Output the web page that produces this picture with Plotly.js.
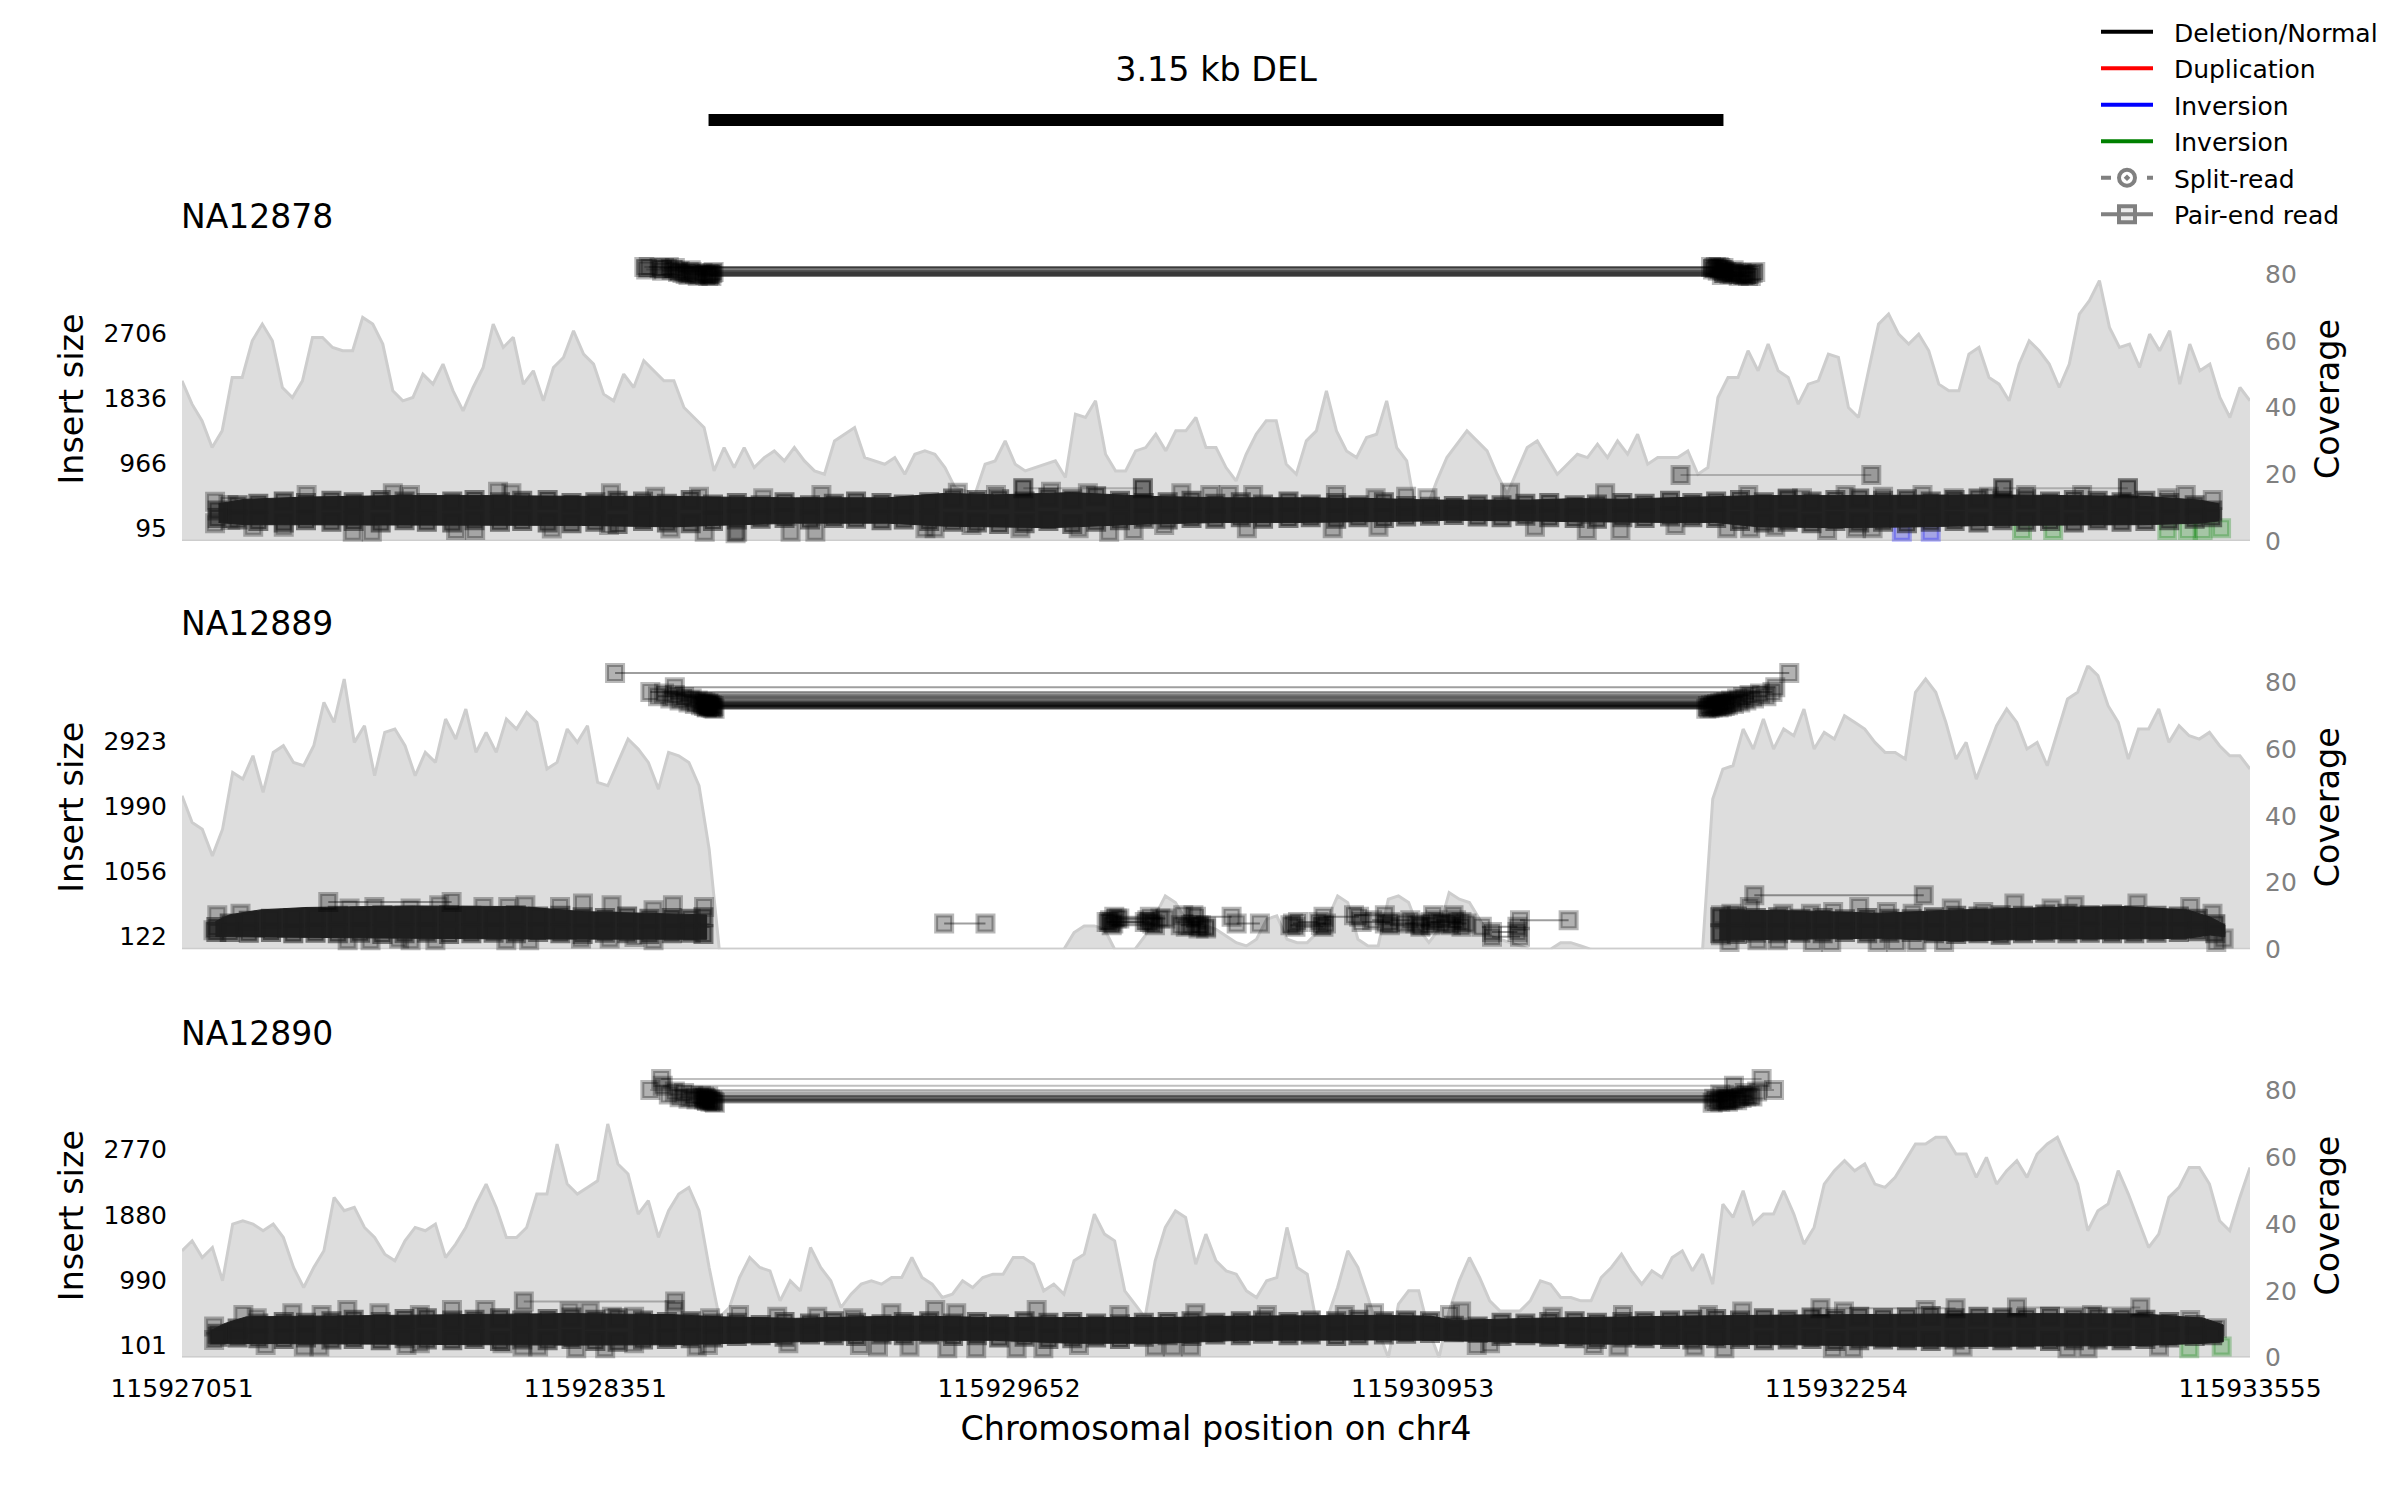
<!DOCTYPE html>
<html><head><meta charset="utf-8">
<script src="https://cdn.plot.ly/plotly-3.0.1.min.js"></script>
<style>html,body{margin:0;padding:0;background:#fff}</style></head>
<body><div id="chart" style="width:2400px;height:1500px"></div>
<script>
const chromStart = 115927051, chromEnd = 115933555;
const xTicks = [115927051,115928351,115929652,115930953,115932254,115933555];
const deletionSpan = [1656,4848];
const sampleNames = ["NA12878","NA12889","NA12890"];
const coverageTicks = [0,20,40,60,80];
const insertTicks1 = [95,966,1836,2706];
const insertTicks2 = [122,1056,1990,2923];
const insertTicks3 = [101,990,1880,2770];

const coverage1 = [48,41,36,28,33,49,49,60,65,60,46,43,48,61,61,58,57,57,67,65,59,45,42,43,50,47,53,45,39,46,52,65,58,61,47,51,42,52,55,63,56,53,44,42,50,46,54,51,48,48,40,37,34,
21,28,22,28,22,25,27,24,28,24,21,20,30,32,34,25,24,23,25,20,26,27,26,22,16,15,14,23,24,30,23,21,22,23,24,19,38,37,42,26,21,21,27,28,32,27,33,33,37,28,28,22,18,26,32,36,36,23,20,30,33,45,33,27,25,31,32,42,28,24,7,10,18,25,29,33,30,27,20,14,21,28,30,25,20,23,26,25,29,25,30,26,32,23,25,
25,25,27,20,22,43,49,49,57,51,59,51,49,41,47,48,56,55,40,37,51,65,68,62,59,62,57,47,45,45,56,58,49,47,42,53,60,57,53,46,53,68,72,78,64,58,59,52,62,57,63,47,59,51,53,43,37,46,42];
const coverage2 = [46,38,36,28,36,53,51,58,47,59,61,56,55,61,74,68,81,62,67,52,65,66,61,52,59,56,69,63,72,59,65,59,69,66,71,68,54,56,66,62,67,50,49,56,63,60,56,48,59,58,56,49,30,
0,0,0,0,0,0,0,0,0,0,0,0,0,0,0,0,0,0,0,0,0,0,0,0,0,0,0,0,0,0,0,0,0,0,0,
5,7,7,6,0,0,0,4,10,16,14,9,8,7,6,4,2,1,3,9,10,3,2,2,5,9,16,14,3,1,1,15,16,14,6,2,6,17,15,14,9,4,3,2,1,0,0,0,2,2,1,0,0,0,0,0,0,0,0,0,0,0,0,
45,54,55,66,60,69,60,66,64,72,60,65,63,70,68,66,62,59,59,57,77,81,77,68,57,62,51,59,67,72,68,60,62,55,65,75,77,85,82,73,68,57,66,66,72,62,67,64,63,65,61,58,58,54];
const coverage3 = [32,35,30,33,23,40,41,40,38,40,36,27,21,27,32,48,44,45,39,36,31,29,35,39,38,40,30,34,39,46,52,45,36,36,39,49,49,64,52,49,51,53,70,58,55,43,47,36,44,49,51,44,27,
12,15,24,30,27,26,17,23,20,33,27,23,15,19,22,
23,22,24,24,30,24,22,18,19,23,21,24,25,25,30,30,28,20,22,19,29,31,43,37,35,20,16,12,29,39,44,42,28,37,29,26,25,20,18,23,24,39,27,25,9,12,21,32,27,18,8,0,16,20,20,8,0,14,23,30,24,17,14,14,14,17,23,22,18,
18,17,17,24,27,31,26,22,26,24,30,32,26,31,22,46,42,50,40,43,43,50,43,34,39,52,56,59,56,58,52,51,54,59,64,64,66,66,61,61,54,60,52,56,59,54,61,64,66,59,52,38,44,46,56,49,41,33,37,48,51,57,57,52,41,38,48,57];

// dense overplotted read band: outline of the solid core
const bandX1 = [115,197,390,679,968,1256,1545,1670,1930,2219,2402,2556,2729,2797,3037,3278,3519,3760,3928,3976,4241,4385,4530,4674,4819,4963,5204,5444,5685,5926,6167,6345,6405];
const bandTop1 = [420,480,510,530,530,520,520,510,500,500,560,540,560,570,520,500,500,490,470,470,470,490,480,500,510,530,530,540,540,530,520,470,420];
const bandBot1 = [170,140,135,130,130,130,110,130,160,160,120,110,100,110,150,170,170,180,190,200,190,180,170,170,170,110,100,110,130,140,140,160,190];
const bandX2a = [105,149,245,390,727,1064,1261,1650];
const bandTop2a = [338,434,505,540,562,553,481,434];
const bandBot2a = [124,124,120,110,100,90,85,85];
const bandX2b = [4835,4862,5103,5344,5585,5874,6115,6307,6380,6425];
const bandTop2b = [505,505,490,457,505,540,553,505,400,290];
const bandBot2b = [76,80,90,100,60,90,90,100,147,120];
const bandX3 = [90,135,202,534,871,1208,1545,1690,1930,2133,2316,2556,2797,3086,3326,3567,3760,3928,4000,4241,4385,4530,4722,5059,5396,5733,6167,6359,6420];
const bandTop3 = [300,400,490,500,520,535,520,490,470,490,500,480,480,480,500,510,510,500,440,470,480,480,500,515,530,535,530,470,380];
const bandBot3 = [130,130,125,120,110,105,110,120,150,170,170,170,130,130,170,170,175,170,170,140,120,120,110,110,90,90,100,130,150];

// reads stacked along the edges of the dense band
const edgeX = [112,175,240,320,390,470,540,625,700,770,850,920,1000,1070,1150,1225,1300,1370,1450,1525,1600,1670,1745,1820,1895,1975,2050,2120,2200,2270,2350,2425,2500,2570,2650,2725,2800,2875,2950,3025,3100,3175,3250,3330,3400,3480,3550,3630,3700,3780,3850,3925,4000,4075,4150,4225,4300,4380,4450,4530,4600,4680,4750,4825,4900,4975,5050,5125,5200,5275,5350,5425,5500,5575,5650,5725,5800,5875,5950,6025,6100,6175,6250,6330,6385];
const edgeTop1 = [330,400,420,450,430,460,440,470,450,430,450,470,440,460,470,430,440,460,450,420,470,410,430,400,440,400,420,450,430,410,440,490,470,480,450,500,480,520,460,430,440,460,420,440,410,450,410,430,400,440,390,380,390,410,400,420,430,400,410,430,420,460,430,450,470,440,480,450,470,490,460,480,450,470,490,460,480,450,470,460,440,460,430,400,330];
const edgeBot1 = [230,210,190,170,200,180,190,170,200,180,170,200,180,190,170,160,180,150,190,170,160,190,210,220,230,210,230,220,200,210,190,180,170,150,160,190,150,180,200,220,210,230,220,240,220,230,240,220,240,230,250,260,270,250,240,260,240,230,220,240,230,250,240,230,190,170,180,160,190,170,180,160,180,190,170,200,180,190,170,200,180,190,200,220,240];
const edgeTop3 = [260,330,400,420,410,430,450,420,460,470,440,450,470,440,460,480,450,470,440,420,430,400,410,380,420,400,430,410,390,420,430,400,420,390,430,410,420,400,390,410,420,430,410,430,440,420,440,430,450,430,440,430,370,360,410,400,420,430,410,420,430,440,450,460,440,470,450,480,460,490,470,480,500,470,490,480,470,490,470,480,470,450,420,380,300];
const edgeBot3 = [220,210,200,190,210,180,190,170,200,180,170,190,160,180,170,190,160,150,180,190,200,210,230,240,220,250,240,230,250,240,250,230,240,210,220,190,200,210,190,220,240,230,250,240,260,240,250,230,240,250,260,270,280,270,230,240,220,200,190,210,200,190,180,200,190,170,180,190,160,170,180,170,160,180,190,170,180,160,170,180,170,190,210,230,240];
const edgeX2a = [108,150,210,280,350,420,490,560,630,700,770,840,910,980,1050,1120,1190,1260,1330,1400,1470,1540,1600,1640];
const edgeTop2a = [260,310,350,380,390,400,420,410,430,420,410,430,420,400,430,410,420,400,390,410,380,390,380,400];
const edgeBot2a = [190,190,180,190,170,180,170,180,160,170,180,160,170,180,170,190,170,160,180,170,160,170,180,160];
const edgeX2b = [4838,4890,4950,5020,5090,5160,5230,5300,5370,5440,5510,5580,5650,5720,5790,5860,5930,6000,6070,6140,6210,6280,6340,6395];
const edgeTop2b = [400,410,390,400,380,390,370,390,380,370,400,420,410,430,420,440,450,430,440,430,420,410,380,300];
const edgeBot2b = [170,160,180,170,180,170,190,170,180,190,170,160,170,150,170,180,170,180,170,170,180,190,200,170];

// individual visible reads around the band
const fringeX1 = [104,146,392,663,717,994,1036,1349,1488,1626,104,152,224,320,537,597,862,922,1163,1343,1536,1644,1746,1828,2011,2440,2560,2646,2733,2849,3022,3143,3234,3292,3369,3629,3754,3850,3917,4177,4476,1741,1914,1992,2338,2367,2483,2637,2820,2916,2993,3089,3349,3619,3763,4255,4418,4524,4926,5050,5095,5232,5350,5474,5572,5683,5728,5800,5976,6120,6244,6302,6387,4697,4860,4932,5011,5174,5265,5317];
const fringeY1 = [448,403,538,560,538,582,560,560,515,515,158,202,113,113,46,46,68,68,90,135,90,46,46,493,538,569,538,627,583,560,627,560,538,538,538,538,493,515,493,569,560,24,46,46,91,91,136,91,91,46,69,136,91,91,113,113,69,69,538,493,493,538,516,538,493,516,627,538,538,627,493,538,471,136,91,91,113,69,91,91];
const blueX1 = [5409,5500];
const blueY1 = [46,46];
const greenX1 = [5787,5885,6244,6309,6355,6413];
const greenY1 = [69,69,69,69,69,91];
const fringeX2 = [111,99,184,527,605,719,809,948,1026,1080,1189,1261,1351,1483,1544,1642,521,593,683,719,797,1020,1092,1255,1345,1423,1483,4873,4931,5036,5123,5193,5275,5362,5443,5566,5665,5763,5880,5952,6150,6316,6386,4867,4955,5019,5129,5187,5333,5391,5455,5542,6398,6421,4840,4840];
const fringeY2 = [429,214,452,524,548,524,572,548,548,572,548,596,572,500,572,548,71,71,95,71,71,71,71,95,95,119,71,452,548,452,452,476,548,476,452,524,476,596,524,572,596,548,452,47,71,71,47,47,47,47,47,47,47,95,429,143];
const fringeX3 = [101,101,193,235,347,439,520,621,748,849,954,1219,1282,1352,1422,1549,1661,1752,1872,1998,2111,263,383,432,706,748,1008,1071,1120,1240,1331,1422,1619,1654,1907,2132,2231,2369,2435,2688,2948,3187,3412,3657,3749,3988,4023,4311,2189,2288,2407,2498,2625,2709,2821,3060,3116,3173,4072,4114,4532,4799,4907,5227,5484,6007,6316,4440,4518,4757,4851,5192,5255,5600,5930,5993,6218,6400];
const fringeY3 = [357,176,516,471,539,516,584,539,516,584,584,562,562,493,493,584,471,516,493,493,471,108,85,85,108,131,131,85,85,62,62,131,85,108,131,108,539,584,539,584,516,539,516,516,539,516,562,493,85,85,62,62,62,62,108,85,85,85,108,131,516,516,562,562,584,516,448,107,85,85,62,62,62,85,62,62,85,335];
const greenX3 = [6313,6415];
const greenY3 = [62,85];

// paired reads: left end, right end, insert size
const pairStart1 = [1454,1468,1502,1516,1531,1550,1560,1574,1584,1593,1603,1613,1622,1637,1646,1656,1655,1660,1665,1668,1672,1460,1510,1540,1565,1600,4713,2646,5728];
const pairEnd1 = [4809,4824,4819,4838,4833,4848,4857,4852,4867,4843,4886,4877,4896,4905,4910,4920,4925,4915,4934,4940,4948,4815,4830,4845,4850,4880,5313,3022,6120];
const pairSize1 = [3595,3595,3582,3582,3595,3582,3528,3515,3501,3488,3528,3501,3475,3515,3488,3501,3475,3488,3475,3515,3528,3560,3545,3555,3540,3550,806,627,627];
const pairStart2 = [1362,1550,1473,1497,1516,1536,1550,1565,1579,1593,1603,1613,1622,1632,1637,1642,1646,1651,1656,1650,1654,1657,1660,1663,1666,1669,1672,1675,460,4945,2397,
2908,2919,2929,2940,2924,2932,2916,2948,3141,3157,3173,3197,3149,3189,3317,3486,3494,3502,3510,3590,3686,3710,3743,3783,3799,3847,3895,3927,3943,3935,3983,3895,4088,4120,4120,4208];
const pairEnd2 = [5055,5011,5002,4983,4963,4944,4930,4920,4910,4901,4891,4881,4872,4862,4857,4852,4848,4843,4838,4833,4828,4824,4819,4814,4809,4804,4799,4794,848,5478,2527,
3044,3036,3052,3077,3060,3044,3028,3093,3197,3221,3205,3221,3181,3301,3390,3582,3598,3590,3574,3702,3783,3799,3863,3879,3927,3959,4024,4024,4007,3999,4040,3991,4200,4208,4200,4361];
const pairSize2 = [3893,3690,3620,3560,3600,3530,3580,3500,3550,3470,3530,3450,3500,3430,3480,3420,3470,3410,3460,3400,3450,3420,3440,3400,3430,3390,3420,3380,619,715,310,
334,358,310,382,287,406,334,382,287,263,287,239,430,406,310,287,310,263,334,406,430,334,358,310,287,310,263,334,358,430,310,287,263,120,191,358];
const pairStart3 = [1473,1507,1512,1531,1550,1565,1579,1593,1608,1618,1632,1642,1651,1645,1650,1655,1660,1662,1668,1672,1676,1642,5153,5771,1075];
const pairEnd3 = [5007,4968,4881,4838,4954,4857,4915,4819,4930,4867,4896,4848,4828,4905,4857,4920,4877,4838,4891,4862,4814,4939,5578,6159,1551];
const pairSize3 = [3580,3730,3638,3520,3560,3480,3540,3460,3500,3450,3500,3450,3430,3470,3440,3490,3450,3420,3440,3420,3405,3490,607,616,698];

const legendLabels = ["Deletion/Normal","Duplication","Inversion","Inversion","Split-read","Pair-end read"];
const legendColors = ["#000000","#ff0000","#0000ff","#008000","#808080","#808080"];

const pos = o => chromStart + o;
const FONT = "DejaVu Sans";
const px = (a,b) => [1-b/1500, 1-a/1500];
const SQ = (fill, edge) => ({symbol:"square", size:16, color:fill, line:{color:edge||fill.replace(/[\d.]+\)$/,"0.28)"), width:4}});
const BLACK = "rgba(0,0,0,0.25)";
const traces = [];

function coverageTrace(vals, ya){
  traces.push({x:vals.map((_,i)=>chromStart+i*(chromEnd-chromStart)/(vals.length-1)), y:vals, yaxis:ya, mode:"lines",
    fill:"tozeroy", fillcolor:"rgb(221,221,221)", line:{color:"rgb(205,205,205)", width:3}, cliponaxis:false, showlegend:false, hoverinfo:"skip"});
  traces.push({x:[chromStart,chromEnd], y:[0,0], yaxis:ya, mode:"lines", line:{color:"rgb(205,205,205)", width:3}, cliponaxis:false, showlegend:false, hoverinfo:"skip"});
}
function bandTrace(xs, tops, bots, ya){
  traces.push({x:xs.concat(xs.slice().reverse()).map(pos), y:tops.concat(bots.slice().reverse()), yaxis:ya, mode:"lines",
    fill:"toself", fillcolor:"#222222", line:{color:"#222222", width:1}, showlegend:false, hoverinfo:"skip"});
}
function markerTrace(xs, ys, ya, marker){
  traces.push({x:xs.map(pos), y:ys, yaxis:ya, mode:"markers", marker, cliponaxis:false, showlegend:false, hoverinfo:"skip"});
}
function pairTraces(st, en, sz, ya, alpha){
  st.forEach((s,i)=>traces.push({x:[pos(s),pos(en[i])], y:[sz[i],sz[i]], yaxis:ya, mode:"lines+markers",
    line:{color:"rgba(0,0,0,"+alpha+")", width:2}, marker:SQ("rgba(0,0,0,0.3)"), cliponaxis:false, showlegend:false, hoverinfo:"skip"}));
}
const EDGE = SQ("rgba(30,30,30,0.6)","rgba(30,30,30,0.55)");

// Coverage sits on the base axis of each panel so the reads overlay it
coverageTrace(coverage1,"y");  coverageTrace(coverage2,"y3");  coverageTrace(coverage3,"y5");
markerTrace(fringeX1,fringeY1,"y2",SQ(BLACK));
markerTrace(blueX1,blueY1,"y2",SQ("rgba(0,0,255,0.25)"));
markerTrace(greenX1,greenY1,"y2",SQ("rgba(0,128,0,0.25)"));
markerTrace(fringeX2,fringeY2,"y4",SQ(BLACK));
markerTrace(fringeX3,fringeY3,"y6",SQ(BLACK));
markerTrace(greenX3,greenY3,"y6",SQ("rgba(0,128,0,0.25)"));
bandTrace(bandX1,bandTop1,bandBot1,"y2");
bandTrace(bandX2a,bandTop2a,bandBot2a,"y4");
bandTrace(bandX2b,bandTop2b,bandBot2b,"y4");
bandTrace(bandX3,bandTop3,bandBot3,"y6");
markerTrace(edgeX,edgeTop1,"y2",EDGE);
markerTrace(edgeX,edgeBot1,"y2",EDGE);
markerTrace(edgeX2a,edgeTop2a,"y4",EDGE);
markerTrace(edgeX2a,edgeBot2a,"y4",EDGE);
markerTrace(edgeX2b,edgeTop2b,"y4",EDGE);
markerTrace(edgeX2b,edgeBot2b,"y4",EDGE);
markerTrace(edgeX,edgeTop3,"y6",EDGE);
markerTrace(edgeX,edgeBot3,"y6",EDGE);
pairTraces(pairStart1,pairEnd1,pairSize1,"y2",0.22);
pairTraces(pairStart2,pairEnd2,pairSize2,"y4",0.38);
pairTraces(pairStart3,pairEnd3,pairSize3,"y6",0.25);

// SV span
traces.push({x:deletionSpan.map(pos), y:[0.5,0.5], yaxis:"y7", mode:"lines", line:{color:"#000",width:12}, showlegend:false, hoverinfo:"skip"});

// legend entries
legendLabels.forEach((name,i)=>{
  const t = {x:[null], y:[null], yaxis:"y7", name:"\u00A0\u00A0"+name, legendgroup:"g"+i, line:{color:legendColors[i], width:4}, mode:"lines", showlegend:true, hoverinfo:"skip"};
  if(i===4){ t.mode="lines+markers"; t.line.dash="10px,36px,10px"; t.marker={symbol:"circle-open-dot",size:20,color:"#808080",line:{width:4,color:"#808080"}}; }
  if(i===5){ t.mode="lines+markers"; t.marker={symbol:"square",size:16,color:"rgba(128,128,128,0.15)",line:{width:4,color:"#808080"}}; }
  traces.push(t);
});

const baseY = {showgrid:false, zeroline:false, showline:false, ticks:"outside", ticklen:9, tickcolor:"rgba(0,0,0,0)", anchor:"x", fixedrange:true};
function covAxis(dom){ return Object.assign({},baseY,{domain:dom, range:[0,85.1], side:"right", tickmode:"array", tickvals:coverageTicks, ticktext:coverageTicks.map(String),
   tickfont:{family:FONT,size:25,color:"#808080"}, title:{text:"Coverage", font:{family:FONT,size:33.4,color:"#000"}, standoff:19}}); }
function insAxis(over, dom, range, ticks){ return Object.assign({},baseY,{domain:dom, overlaying:over, range, side:"left", tickmode:"array", tickvals:ticks, ticktext:ticks.map(String),
   tickfont:{family:FONT,size:25,color:"#000"}, title:{text:"Insert size", font:{family:FONT,size:33.4,color:"#000"}, standoff:9}}); }

const d1=px(257,541), d2=px(665.3,949.3), d3=px(1073.6,1357.6);
const layout = {
  width:2400, height:1500, margin:{l:0,r:0,t:0,b:0,pad:0}, paper_bgcolor:"#fff", plot_bgcolor:"rgba(0,0,0,0)",
  font:{family:FONT, color:"#000"}, hovermode:false,
  title:{text:"3.15 kb DEL", font:{family:FONT,size:33.4,color:"#000"}, x:1216/2400, xanchor:"center", xref:"paper", y:1-69/1500, yanchor:"middle", yref:"paper"},
  xaxis:{domain:[182/2400,2250/2400], range:[chromStart,chromEnd], anchor:"y5", showgrid:false, zeroline:false, showline:false,
    ticks:"outside", ticklen:8, tickcolor:"rgba(0,0,0,0)", tickmode:"array", tickvals:xTicks, ticktext:xTicks.map(String), tickfont:{family:FONT,size:25,color:"#000"},
    title:{text:"Chromosomal position on chr4", font:{family:FONT,size:33.4,color:"#000"}, standoff:15}, fixedrange:true},
  yaxis:covAxis(d1), yaxis2:insAxis("y",d1,[-79,3729],insertTicks1),
  yaxis3:covAxis(d2), yaxis4:insAxis("y3",d2,[-58,4003],insertTicks2),
  yaxis5:covAxis(d3), yaxis6:insAxis("y5",d3,[-65,3803],insertTicks3),
  yaxis7:{domain:px(101.5,138.5), range:[0,1], anchor:"x", visible:false, fixedrange:true},
  showlegend:true,
  legend:{x:2096/2400, xanchor:"left", y:1-9/1500, yanchor:"top", itemwidth:52, tracegroupgap:1, font:{family:FONT,size:25,color:"#000"}, bgcolor:"rgba(0,0,0,0)", borderwidth:0, traceorder:"grouped", itemclick:false, itemdoubleclick:false},
  annotations:sampleNames.map((name,i)=>({text:name, xref:"paper", yref:"paper", x:179/2400, xanchor:"left", y:1-[216,624,1033][i]/1500, yanchor:"middle", showarrow:false, font:{family:FONT,size:33,color:"#000"}}))
};
Plotly.newPlot("chart", traces, layout, {displayModeBar:false, staticPlot:true});
</script></body></html>
